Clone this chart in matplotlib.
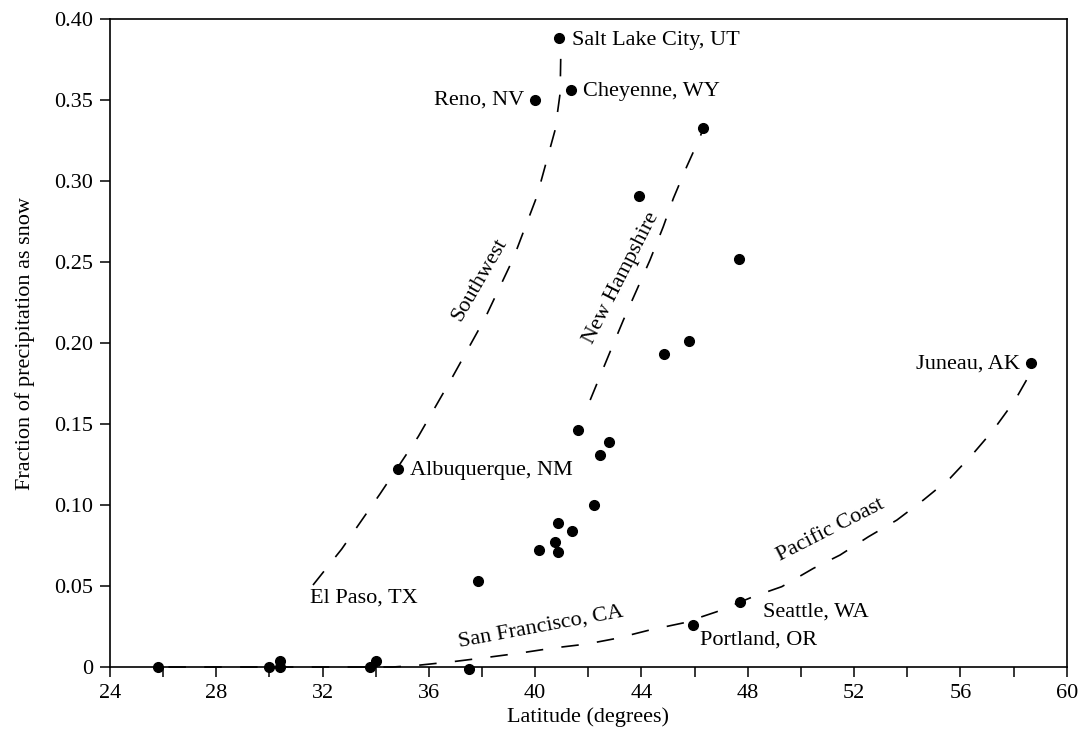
import numpy as np
import matplotlib
matplotlib.use('Agg')
import matplotlib.pyplot as plt
from matplotlib.ticker import MultipleLocator, FixedLocator

plt.rcParams['font.family'] = 'serif'
plt.rcParams['font.serif'] = ['Liberation Serif', 'DejaVu Serif']

# station latitude and fraction of precipitation falling as snow
lat = [25.8, 30.0, 30.4, 30.4, 33.8, 34.0, 37.5, 34.85, 37.85, 40.16,
       40.75, 40.85, 40.85, 41.38, 42.23, 42.45, 42.78, 41.60, 44.85, 45.79,
       43.92, 47.66, 46.33, 40.0, 41.34, 40.89, 58.65, 47.71, 45.93]
snow = [0.0, 0.0, 0.004, 0.0, 0.0, 0.004, -0.001, 0.122, 0.053, 0.072,
        0.077, 0.071, 0.089, 0.084, 0.100, 0.131, 0.139, 0.146, 0.193, 0.201,
        0.291, 0.252, 0.333, 0.350, 0.356, 0.388, 0.1875, 0.040, 0.026]

# hand-drawn regional trend curves
sw_lat = [31.64, 32.72, 34.16, 35.60, 36.86, 38.11, 39.18, 40.06, 40.75, 40.94, 40.97]
sw_snow = [0.0506, 0.0728, 0.1068, 0.1422, 0.1782, 0.2152, 0.2523, 0.2903, 0.3315, 0.3543, 0.384]

nh_lat = [42.07, 42.82, 43.32, 43.82, 44.32, 44.82, 45.20, 45.70, 46.21, 46.32]
nh_snow = [0.1648, 0.1946, 0.2142, 0.2327, 0.2512, 0.2718, 0.2893, 0.3088, 0.3273, 0.3327]

pc_lat = [26.2, 33.0, 34.65, 35.67, 36.91, 38.04, 39.43, 40.67, 41.95, 43.07, 44.30,
          45.57, 46.83, 48.20, 49.28, 50.47, 51.47, 52.54, 53.61, 54.61, 55.61,
          56.49, 57.24, 58.06, 58.81]
pc_snow = [0.0, 0.0, 0.0, 0.0012, 0.0033, 0.0056, 0.0086, 0.0117, 0.0142, 0.0177, 0.0228,
           0.0272, 0.0341, 0.0434, 0.0496, 0.0609, 0.0691, 0.0804, 0.0907, 0.1031, 0.1165,
           0.1319, 0.1463, 0.1648, 0.1864]

fs = 16

fig = plt.figure(figsize=(10.78, 7.38), dpi=100)
ax = fig.add_axes([0.102, 0.0962, 0.8875, 0.878])

dash = (10.5, 11.0)
for xs, ys in [(sw_lat, sw_snow), (nh_lat, nh_snow), (pc_lat, pc_snow)]:
    line, = ax.plot(xs, ys, color='black', lw=1.2, clip_on=False, zorder=3)
    line.set_dashes(dash)

ax.plot(lat, snow, 'o', color='black', ms=7, clip_on=False, zorder=5)

# station labels
ax.text(41.39, 0.387, 'Salt Lake City, UT', fontsize=fs, va='center', ha='left')
ax.text(39.6, 0.350, 'Reno, NV', fontsize=fs, va='center', ha='right')
ax.text(41.8, 0.355, 'Cheyenne, WY', fontsize=fs, va='center', ha='left')
ax.text(35.29, 0.1216, 'Albuquerque, NM', fontsize=fs, va='center', ha='left')
ax.text(31.53, 0.0426, 'El Paso, TX', fontsize=fs, va='center', ha='left')
ax.text(46.2, 0.0167, 'Portland, OR', fontsize=fs, va='center', ha='left')
ax.text(48.58, 0.034, 'Seattle, WA', fontsize=fs, va='center', ha='left')
ax.text(58.25, 0.187, 'Juneau, AK', fontsize=fs, va='center', ha='right')
ax.text(40.22, 0.0245, 'San Francisco, CA', fontsize=fs, va='center', ha='center',
        rotation=10.5, rotation_mode='anchor')

# curve labels
ax.text(37.93, 0.239, 'Southwest', fontsize=fs, va='center', ha='center',
        rotation=60, rotation_mode='anchor')
ax.text(43.25, 0.240, 'New Hampshire', fontsize=fs, va='center', ha='center',
        rotation=63, rotation_mode='anchor')
ax.text(51.13, 0.0846, 'Pacific Coast', fontsize=fs, va='center', ha='center',
        rotation=27, rotation_mode='anchor')

ax.set_xlim(24, 60)
ax.set_ylim(0, 0.40)
ax.xaxis.set_major_locator(MultipleLocator(4))
ax.xaxis.set_minor_locator(MultipleLocator(2))
ax.yaxis.set_major_locator(FixedLocator(np.arange(0, 0.401, 0.05)))
ax.set_yticklabels(['0'] + ['%.2f' % v for v in np.arange(0.05, 0.401, 0.05)])

ax.tick_params(which='both', direction='out', length=7, width=1.1,
               labelsize=fs, top=False, right=False, pad=5)
for sp in ax.spines.values():
    sp.set_linewidth(1.2)

ax.set_xlabel('Latitude (degrees)', fontsize=fs, labelpad=3)
ax.set_ylabel('Fraction of precipitation as snow', fontsize=fs, labelpad=14)

fig.savefig('out.png', dpi=100)
